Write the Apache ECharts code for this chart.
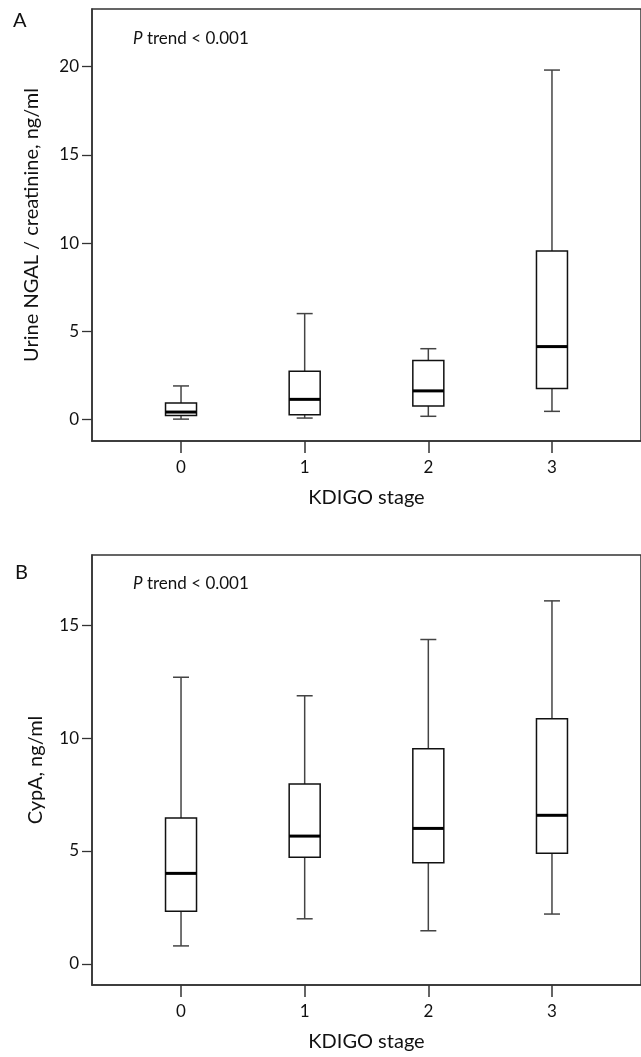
<!DOCTYPE html>
<html lang="en">
<head>
    <meta charset="UTF-8">
    <title>KDIGO boxplots</title>
    <script src="https://cdn.jsdelivr.net/npm/echarts@6/dist/echarts.min.js"></script>
    <style>
        body { margin: 0; background: #fff; }
        #chart { width: 641px; height: 1057px; }
    </style>
</head>
<body>
    <div id="chart"></div>
</body>
<script type="application/javascript">

    // KDIGO stage on x
    var stages = [0, 1, 2, 3];

    // panel A: urine NGAL / creatinine
    var ngalMin = [0.03, 0.09, 0.19, 0.47];
    var ngalQ1 = [0.24, 0.28, 0.77, 1.76];
    var ngalMedian = [0.43, 1.15, 1.63, 4.14];
    var ngalQ3 = [0.94, 2.74, 3.35, 9.55];
    var ngalMax = [1.91, 6.01, 4.02, 19.81];
    var ngalTicks = [0, 5, 10, 15, 20];

    // panel B: CypA
    var cypaMin = [0.80, 2.00, 1.47, 2.21];
    var cypaQ1 = [2.33, 4.72, 4.48, 4.90];
    var cypaMedian = [4.01, 5.66, 6.00, 6.58];
    var cypaQ3 = [6.46, 7.96, 9.53, 10.85];
    var cypaMax = [12.69, 11.87, 14.36, 16.07];
    var cypaTicks = [0, 5, 10, 15];

    var font = 'Lato, "Noto Sans", sans-serif';
    var lineColor = '#333';

    function boxData(min, q1, med, q3, max) {
        var rows = [];
        for (var i = 0; i < stages.length; i++) {
            rows.push([stages[i], min[i], q1[i], med[i], q3[i], max[i]]);
        }
        return rows;
    }

    // draws one box with whiskers, caps and a thick median
    function renderBox(params, api) {
        var x = api.value(0);
        var pMin = api.coord([x, api.value(1)]);
        var pQ1 = api.coord([x, api.value(2)]);
        var pMed = api.coord([x, api.value(3)]);
        var pQ3 = api.coord([x, api.value(4)]);
        var pMax = api.coord([x, api.value(5)]);
        var cx = pMed[0];
        var half = 15.5;
        var cap = 8;
        var whisk = { stroke: '#444', lineWidth: 1.5 };
        return {
            type: 'group',
            children: [
                { type: 'line', shape: { x1: cx, y1: pQ3[1], x2: cx, y2: pMax[1] }, style: whisk },
                { type: 'line', shape: { x1: cx - cap, y1: pMax[1], x2: cx + cap, y2: pMax[1] }, style: whisk },
                { type: 'line', shape: { x1: cx, y1: pQ1[1], x2: cx, y2: pMin[1] }, style: whisk },
                { type: 'line', shape: { x1: cx - cap, y1: pMin[1], x2: cx + cap, y2: pMin[1] }, style: whisk },
                { type: 'rect', shape: { x: cx - half, y: pQ3[1], width: half * 2, height: pQ1[1] - pQ3[1] },
                  style: { fill: '#fff', stroke: '#111', lineWidth: 1.5 } },
                { type: 'line', shape: { x1: cx - half, y1: pMed[1], x2: cx + half, y2: pMed[1] },
                  style: { stroke: '#000', lineWidth: 3 } }
            ]
        };
    }

    function xAxisFor(idx) {
        return {
            type: 'value',
            gridIndex: idx,
            min: -0.72,
            max: 3.72,
            name: 'KDIGO stage',
            nameLocation: 'middle',
            nameGap: 47,
            nameTextStyle: { fontFamily: font, fontSize: 20, color: '#111' },
            splitLine: { show: false },
            axisLine: { show: true, onZero: false, lineStyle: { color: lineColor, width: 1.5 } },
            axisTick: { show: true, length: 12, customValues: stages, lineStyle: { color: lineColor, width: 1.5 } },
            axisLabel: { customValues: stages, margin: 18, fontFamily: font, fontSize: 17, color: '#111' }
        };
    }

    function yAxisFor(idx, min, max, ticks, title, gap) {
        return {
            type: 'value',
            gridIndex: idx,
            min: min,
            max: max,
            name: title,
            nameLocation: 'middle',
            nameGap: gap,
            nameTextStyle: { fontFamily: font, fontSize: 20, color: '#111' },
            splitLine: { show: false },
            axisLine: { show: true, onZero: false, lineStyle: { color: lineColor, width: 1.5 } },
            axisTick: { show: true, length: 10, customValues: ticks, lineStyle: { color: lineColor, width: 1.3 } },
            axisLabel: { customValues: ticks, margin: 13, fontFamily: font, fontSize: 17, color: '#111' }
        };
    }

    function trendText(top) {
        return {
            type: 'text',
            left: 133,
            top: top,
            style: {
                text: '{i|P} trend < 0.001',
                fontFamily: font,
                fontSize: 17,
                fill: '#111',
                rich: { i: { fontStyle: 'italic', fontFamily: font, fontSize: 17 } }
            }
        };
    }

    var chart = echarts.init(document.getElementById('chart'));
    var option = {
        animation: false,
        grid: [
            { left: 92, top: 9, width: 560, height: 432, show: true, borderColor: lineColor, borderWidth: 1.5 },
            { left: 92, top: 555, width: 560, height: 430, show: true, borderColor: lineColor, borderWidth: 1.5 }
        ],
        xAxis: [xAxisFor(0), xAxisFor(1)],
        yAxis: [
            yAxisFor(0, -1.21, 23.27, ngalTicks, 'Urine NGAL / creatinine, ng/ml', 50),
            yAxisFor(1, -0.93, 18.10, cypaTicks, 'CypA, ng/ml', 46)
        ],
        graphic: [
            { type: 'text', left: 13, top: 11, style: { text: 'A', fontFamily: font, fontSize: 20, fill: '#111' } },
            { type: 'text', left: 15, top: 563, style: { text: 'B', fontFamily: font, fontSize: 20, fill: '#111' } },
            trendText(30),
            trendText(575)
        ],
        series: [
            {
                name: 'Urine NGAL / creatinine',
                type: 'custom',
                xAxisIndex: 0,
                yAxisIndex: 0,
                renderItem: renderBox,
                encode: { x: 0, y: [1, 2, 3, 4, 5] },
                data: boxData(ngalMin, ngalQ1, ngalMedian, ngalQ3, ngalMax)
            },
            {
                name: 'CypA',
                type: 'custom',
                xAxisIndex: 1,
                yAxisIndex: 1,
                renderItem: renderBox,
                encode: { x: 0, y: [1, 2, 3, 4, 5] },
                data: boxData(cypaMin, cypaQ1, cypaMedian, cypaQ3, cypaMax)
            }
        ]
    };
    chart.setOption(option);
</script>
</html>
